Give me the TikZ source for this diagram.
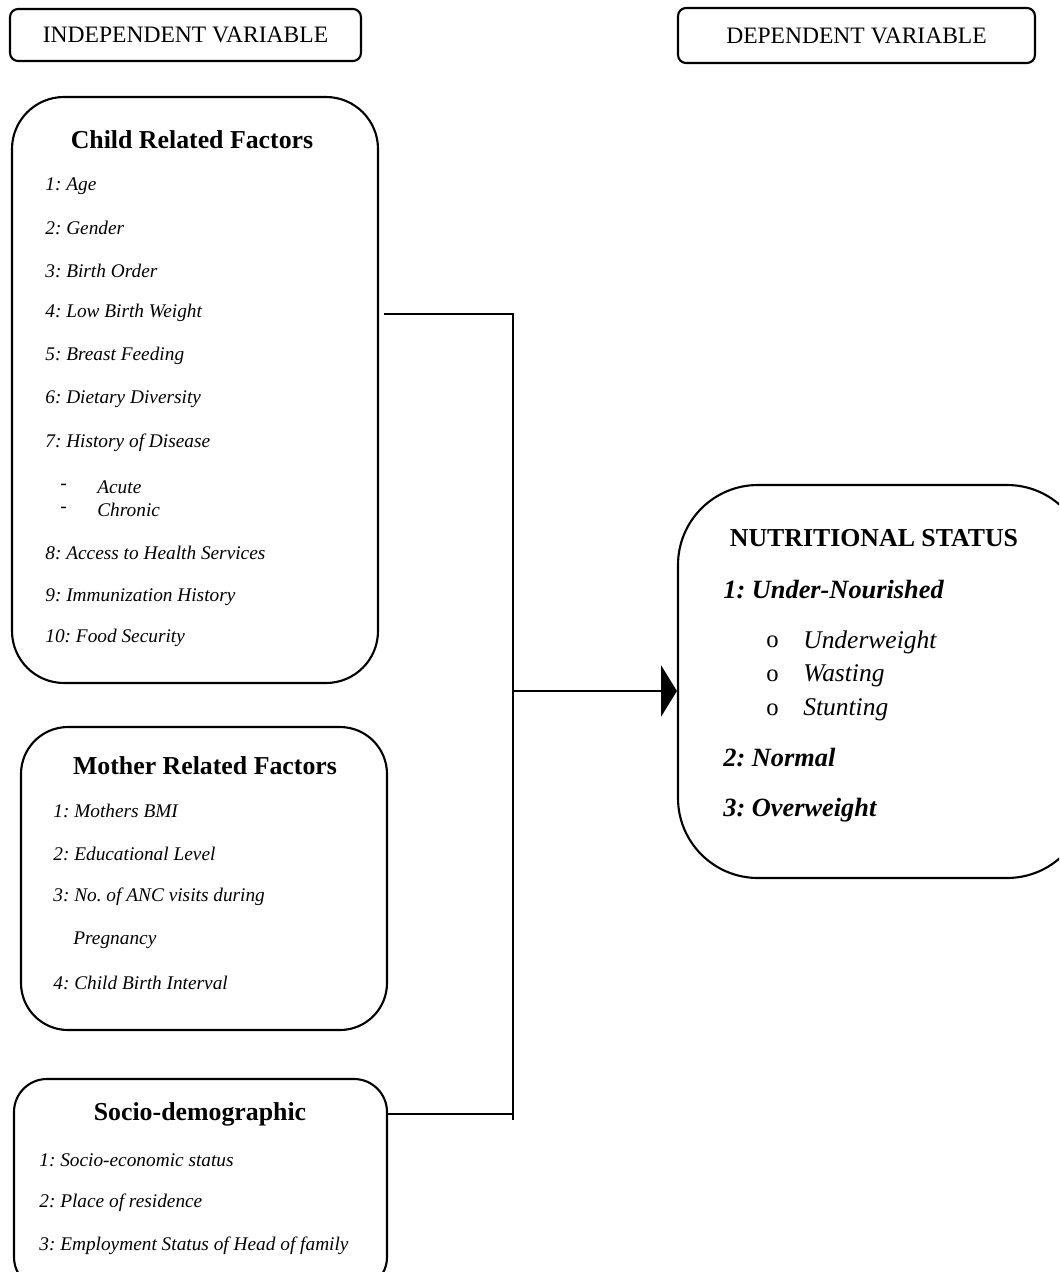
\documentclass[tikz,border=0pt]{standalone}
\usepackage{fontspec}
\setmainfont{Liberation Serif}
\frenchspacing
\usetikzlibrary{arrows.meta,fit,positioning}

\begin{document}
\begin{tikzpicture}[x=0.02cm,y=-0.02cm,
  box/.style={draw,line width=1.2pt,inner sep=0pt},
  hdr/.style={draw,line width=1.2pt,rounded corners=0.16cm,font=\fontsize{13.4}{16}\selectfont},
  ttl/.style={inner sep=0pt,font=\fontsize{14.7}{17}\selectfont\bfseries},
  itm/.style={anchor=west,inner sep=0pt,font=\fontsize{11}{13}\selectfont\itshape},
  big/.style={anchor=west,inner sep=0pt,font=\fontsize{15}{18}\selectfont\bfseries\itshape},
  sub/.style={anchor=west,inner sep=0pt,font=\fontsize{14.5}{17}\selectfont\itshape},
  dot/.style={anchor=west,inner sep=0pt,font=\fontsize{14}{17}\selectfont},
  link/.style={line width=1.2pt}]

				\useasboundingbox (0,0) rectangle (1059,1272);
				\clip (0,0) rectangle (1059,1272);
				
				% headings
				\node[hdr,minimum width=7.02cm,minimum height=1.04cm] (indep) at (185.5,35) {INDEPENDENT VARIABLE};
				\node[hdr,minimum width=7.14cm,minimum height=1.1cm] (dep) at (856.5,35.5) {DEPENDENT VARIABLE};
				
				% boxes
				\node[box,rounded corners=1.04cm,fit={(12,97) (378,683)}] (child) {};
				\node[box,rounded corners=0.94cm,fit={(21,727) (387,1030)}] (mother) {};
				\node[box,rounded corners=0.66cm,fit={(14,1079) (387,1290)}] (socio) {};
				\node[box,rounded corners=1.6cm,fit={(678,485) (1087,878)}] (nutri) {};
				
				% child related factors
				\node[ttl] (childT) at (192,140) {Child Related Factors};
				\foreach \y/\t [count=\i] in {186/1: Age,228/2: Gender,271/3: Birth Order,313/4: Low Birth Weight,
					356/5: Breast Feeding,399/6: Dietary Diversity,443/7: History of Disease,
					553/8: Access to Health Services,597/9: Immunization History,638/10: Food Security}{
					\node[itm] (c\i) at (45,\y) {\t};}
				\foreach \y/\t [count=\i] in {487/Acute,510/Chronic}{
					\node[itm] (d\i) at (60,\y) {-};
					\node[itm] (k\i) at (97,\y) {\t};}
				
				% mother related factors
				\node[ttl] (motherT) at (205,766) {Mother Related Factors};
				\foreach \y/\t [count=\i] in {811/1: Mothers BMI,854/2: Educational Level,897/3: No. of ANC visits during,983/4: Child Birth Interval}{
					\node[itm] (m\i) at (53,\y) {\t};}
				\node[itm] (m5) at (73,940) {Pregnancy};
				
				% socio-demographic
				\node[ttl] (socioT) at (200,1114) {Socio-demographic};
				\foreach \y/\t [count=\i] in {1160/1: Socio-economic status,1203/2: Place of residence,1246/3: Employment Status of Head of family}{
					\node[itm] (s\i) at (39,\y) {\t};}
				
				% nutritional status
				\node[ttl] (nutriT) at (874,538) {NUTRITIONAL STATUS};
				\node[big] (n1) at (723,590) {1: Under-Nourished};
				\foreach \y/\t [count=\i] in {642/Underweight,676/Wasting,710/Stunting}{
					\node[dot] (o\i) at (766,\y) {o};
					\node[sub] (u\i) at (803,\y) {\t};}
				\node[big] (n2) at (723,758) {2: Normal};
				\node[big] (n3) at (723,810) {3: Overweight};
				
				% connectors
				\coordinate (jTop) at (513,314);
				\coordinate (jMid) at (513,691);
				\coordinate (jLow) at (513,1114);
				\coordinate (jEnd) at (513,1120);
				\draw[link] ([xshift=0.1cm]child.east |- jTop) -- (jTop) -- (jEnd);
				\draw[link] (socio.east |- jLow) -- (jLow);
				\draw[link,-{Triangle[length=9pt,width=29pt]}] (jMid) -- (nutri.west |- jMid);
\end{tikzpicture}
\end{document}
